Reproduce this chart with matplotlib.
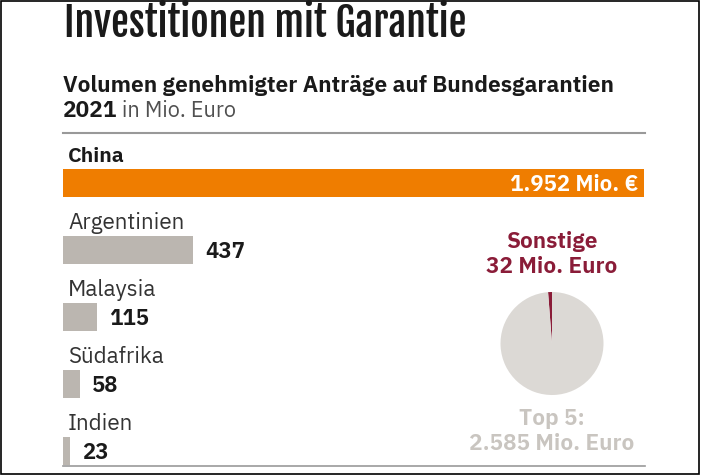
import matplotlib.pyplot as plt
from matplotlib.patches import Rectangle
from matplotlib.lines import Line2D

countries = ['China', 'Argentinien', 'Malaysia', 'Südafrika', 'Indien']
volumes = [1952, 437, 115, 58, 23]
value_labels = ['1.952 Mio. €', '437', '115', '58', '23']
pie_values = [32, 2585]
pie_lines = [['Sonstige', '32 Mio. Euro'], ['Top 5:', '2.585 Mio. Euro']]

ORANGE = '#ef7d00'
GREY_BAR = '#bbb6b0'
PIE_GREY = '#dcd9d5'
DARK_RED = '#8a1c38'
TOP5_GREY = '#c9c5c0'
TEXT = '#1a1a1a'
BODY = ['IBM Plex Sans', 'DejaVu Sans']
BOLD = ['IBM Plex Sans JP', 'IBM Plex Sans Condensed', 'DejaVu Sans']

W, H = 704, 476
fig = plt.figure(figsize=(W / 100, H / 100), dpi=100)
fig.patch.set_facecolor('white')
fig.canvas.draw()
rend = fig.canvas.get_renderer()

def fx(px):
    return px / W

def fy(py):
    return 1 - py / H

def fit(t, width):
    # scale font so the text takes the given pixel width
    w = t.get_window_extent(rend).width
    t.set_fontsize(t.get_fontsize() * width / w)

# outer frame
fig.add_artist(Rectangle((fx(1), fy(474)), fx(698), 473 / H, transform=fig.transFigure,
                         fill=False, edgecolor='black', linewidth=1.2))

# title and subtitle
t = fig.text(fx(64), fy(37), 'Investitionen mit Garantie', fontsize=30,
             family=['Fjalla One', 'DejaVu Sans'], va='baseline', ha='left', color=TEXT)
fit(t, 402)
t = fig.text(fx(63), fy(92), 'Volumen genehmigter Anträge auf Bundesgarantien', fontsize=16,
             fontweight='bold', family=BOLD, va='baseline', ha='left', color=TEXT)
fit(t, 549)
size_sub = t.get_fontsize()
t = fig.text(fx(63), fy(117), '2021', fontsize=size_sub, fontweight='bold', family=BOLD,
             va='baseline', ha='left', color=TEXT)
bb = t.get_window_extent(rend)
fig.text(bb.x1 / W + fx(5), fy(117), 'in Mio. Euro', fontsize=size_sub, family=BODY,
         va='baseline', ha='left', color='#505050')

# bar axes
x0, x1 = 63, 644
top, bottom = 133, 466
c0, step = 183, 67
ax = fig.add_axes([fx(x0), fy(bottom), fx(x1 - x0), (bottom - top) / H])
ax.set_xlim(0, volumes[0])
ax.set_ylim((bottom - c0) / step, -(c0 - top) / step)
ax.axis('off')

pos = list(range(len(countries)))
colors = [ORANGE] + [GREY_BAR] * (len(countries) - 1)
ax.barh(pos, volumes, height=28 / step, color=colors, edgecolor='none')

for i, (name, v, lab) in enumerate(zip(countries, volumes, value_labels)):
    if i == 0:
        ax.annotate(name, (0, i), xytext=(5, 21), textcoords='offset pixels',
                    fontsize=14.5, fontweight='bold', family=BOLD, color=TEXT,
                    va='baseline', ha='left')
        ax.annotate(lab, (v, i), xytext=(-6, -8), textcoords='offset pixels',
                    fontsize=15.2, fontweight='bold', family=BOLD, color='white',
                    va='baseline', ha='right')
    else:
        ax.annotate(name, (0, i), xytext=(5, 21), textcoords='offset pixels',
                    fontsize=16.2, family=BODY, color='#333333',
                    va='baseline', ha='left')
        ax.annotate(lab, (v, i), xytext=(12, -8), textcoords='offset pixels',
                    fontsize=15.2, fontweight='bold', family=BOLD, color=TEXT,
                    va='baseline', ha='left')

fig.add_artist(Line2D([fx(x0), fx(x1 + 1)], [fy(top), fy(top)], transform=fig.transFigure,
                      color='#999999', linewidth=1.5))
fig.add_artist(Line2D([fx(x0), fx(x1 + 1)], [fy(bottom), fy(bottom)], transform=fig.transFigure,
                      color='#999999', linewidth=1.2))

# pie
cx, cy, r = 552, 343.5, 51.5
pax = fig.add_axes([fx(cx - r), fy(cy + r), fx(2 * r), 2 * r / H])
pax.pie(pie_values, colors=[DARK_RED, PIE_GREY], startangle=90, counterclock=True,
        wedgeprops=dict(linewidth=0))
pax.set_xlim(-1, 1)
pax.set_ylim(-1, 1)
pax.set_aspect('equal')

for lines, col, bases in [(pie_lines[0], DARK_RED, [248, 273]),
                          (pie_lines[1], TOP5_GREY, [425, 450])]:
    for s, b in zip(lines, bases):
        fig.text(fx(cx), fy(b), s, fontsize=15.5, fontweight='bold', family=BOLD,
                 color=col, ha='center', va='baseline')

fig.savefig('out.png', dpi=100)
